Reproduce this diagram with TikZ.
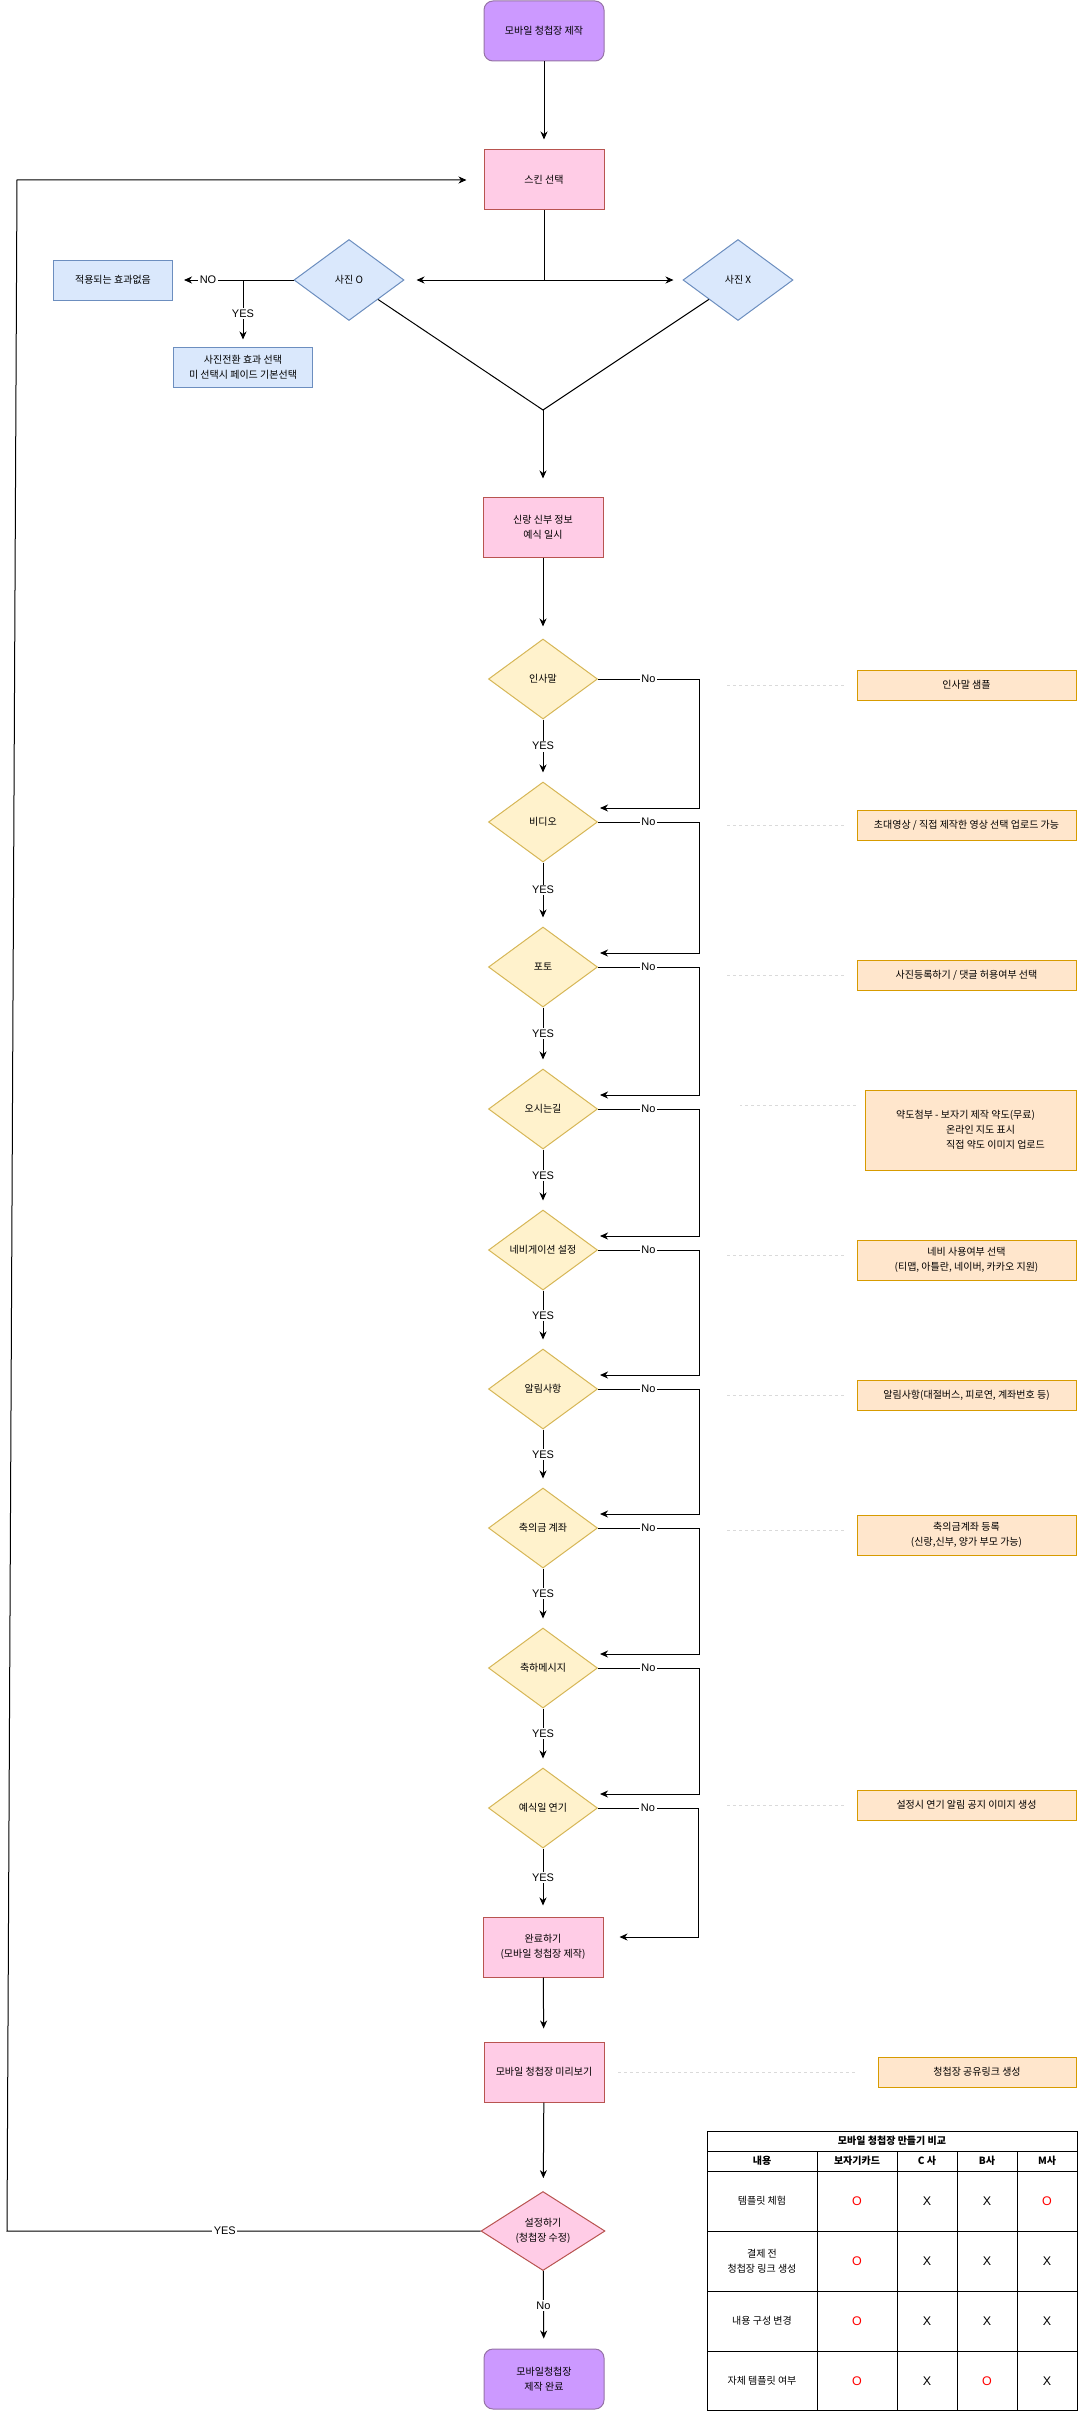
\documentclass[tikz,border=0pt]{standalone}
\usepackage{fontspec}
\setmainfont{Noto Sans CJK KR}
\newfontfamily\latfont{Liberation Sans}
\usetikzlibrary{shapes.geometric,arrows.meta}
\definecolor{startfill}{HTML}{CC99FF}
\definecolor{startline}{HTML}{9673A6}
\definecolor{procfill}{HTML}{FFCCE6}
\definecolor{procline}{HTML}{B85450}
\definecolor{bluefill}{HTML}{DAE8FC}
\definecolor{blueline}{HTML}{6C8EBF}
\definecolor{askfill}{HTML}{FFF2CC}
\definecolor{askline}{HTML}{D6B656}
\definecolor{notefill}{HTML}{FFE6CC}
\definecolor{noteline}{HTML}{D79B00}
\definecolor{dashgray}{HTML}{DADADA}
\definecolor{markred}{HTML}{FF0000}
\begin{document}
\begin{tikzpicture}[x=1pt,y=-1pt,
    every node/.style={font=\fontsize{10}{15}\selectfont},
    startbox/.style={rectangle, rounded corners=9pt, draw=startline, fill=startfill, line width=1pt,
      minimum width=120pt, minimum height=60pt, inner sep=2pt, align=center},
    procbox/.style={rectangle, draw=procline, fill=procfill, line width=1pt,
      minimum width=120pt, minimum height=60pt, inner sep=2pt, align=center},
    bluebox/.style={rectangle, draw=blueline, fill=bluefill, line width=1pt,
      minimum width=119pt, minimum height=40pt, inner sep=2pt, align=center},
    pickbox/.style={diamond, draw=blueline, fill=bluefill, line width=1pt,
      minimum width=110pt, minimum height=81pt, inner sep=0pt},
    askbox/.style={diamond, draw=askline, fill=askfill, line width=1pt,
      minimum width=109pt, minimum height=80pt, inner sep=0pt},
    setbox/.style={diamond, draw=procline, fill=procfill, line width=1pt,
      minimum width=124pt, minimum height=79pt, inner sep=0pt},
    notebox/.style={rectangle, draw=noteline, fill=notefill, line width=1pt,
      minimum width=219pt, minimum height=30pt, inner sep=2pt, align=center},
    wire/.style={draw, line width=1pt},
    arr/.style={draw, line width=1pt, -{Stealth[length=8pt,width=7pt,inset=2.5pt]}},
    twoway/.style={draw, line width=1pt, {Stealth[length=8pt,width=7pt,inset=2.5pt]}-{Stealth[length=8pt,width=7pt,inset=2.5pt]}},
    lbl/.style={fill=white, inner sep=1.5pt, font=\latfont\fontsize{11}{13}\selectfont},
    dline/.style={draw=dashgray, line width=1pt, dash pattern=on 3pt off 3pt},
    xmark/.style={font=\latfont\fontsize{12.5}{14}\selectfont},
    omark/.style={font=\latfont\fontsize{12.5}{14}\selectfont, text=markred}]
\useasboundingbox (0,0) rectangle (1078,2411);

% main column
\node[startbox] (start) at (544,31) {모바일 청첩장 제작};
\node[procbox] (skin) at (544,180) {스킨 선택};
\node[pickbox, label=center:사진 O] (phO) at (349,280) {};
\node[pickbox, label=center:사진 X] (phX) at (738,280) {};
\node[bluebox] (noeff) at (113,280) {적용되는 효과없음};
\node[bluebox, minimum width=139pt] (trans) at (243,367) {사진전환 효과 선택\\미 선택시 페이드 기본선택};
\node[procbox] (info) at (543,527) {신랑 신부 정보\\예식 일시};
\coordinate (jn) at (544,280);
\coordinate (vt) at (543,410);
\coordinate (nj) at (243,280);

\node[askbox, label=center:인사말] (d1) at (543,679) {};
\node[askbox, label=center:비디오] (d2) at (543,822) {};
\node[askbox, label=center:포토] (d3) at (543,967) {};
\node[askbox, label=center:오시는길] (d4) at (543,1109) {};
\node[askbox, label=center:네비게이션 설정] (d5) at (543,1250) {};
\node[askbox, label=center:알림사항] (d6) at (543,1389) {};
\node[askbox, label=center:축의금 계좌] (d7) at (543,1528) {};
\node[askbox, label=center:축하메시지] (d8) at (543,1668) {};
\node[askbox, label=center:예식일 연기] (d9) at (543,1808) {};

\node[procbox] (done) at (543,1947) {완료하기\\(모바일 청첩장 제작)};
\node[procbox] (prev) at (544,2072) {모바일 청첩장 미리보기};
\node[setbox, label={[align=center]center:설정하기\\(청첩장 수정)}] (set) at (543,2231) {};
\node[startbox] (fin) at (544,2379) {모바일청첩장\\제작 완료};
\coordinate (lb) at (7,2231);
\coordinate (lt) at (17,180);

% side notes
\node[notebox] (n1) at (966.5,685) {인사말 샘플};
\node[notebox] (n2) at (966.5,825) {초대영상 / 직접 제작한 영상 선택 업로드 가능};
\node[notebox] (n3) at (966.5,975) {사진등록하기 / 댓글 허용여부 선택};
\node[notebox, minimum width=211pt, minimum height=80pt, align=left] (n4) at (970.5,1130)
  {\fontsize{10}{14}\selectfont 약도첨부 - 보자기 제작 약도(무료)\\\hspace*{50pt}온라인 지도 표시\\\hspace*{50pt}직접 약도 이미지 업로드};
\node[notebox, minimum height=40pt] (n5) at (966.5,1260) {네비 사용여부 선택\\(티맵, 아틀란, 네이버, 카카오 지원)};
\node[notebox] (n6) at (966.5,1395) {알림사항(대절버스, 피로연, 계좌번호 등)};
\node[notebox, minimum height=40pt] (n7) at (966.5,1535) {축의금계좌 등록\\(신랑,신부, 양가 부모 가능)};
\node[notebox] (n8) at (966.5,1805) {설정시 연기 알림 공지 이미지 생성};
\node[notebox, minimum width=198pt] (n9) at (977,2072) {청첩장 공유링크 생성};

% connectors
\draw[arr, shorten >=10pt] (start) -- (skin);
\draw[wire] (skin) -- (jn);
\draw[twoway, shorten <=12pt, shorten >=9pt] (phO) -- (phX);
\draw[wire] (phO) -- (vt) -- (phX);
\draw[arr, shorten >=18pt] (vt) -- (info);
\draw[wire] (phO) -- (nj);
\draw[arr, shorten >=11pt] (nj) -- node[lbl]{NO} (noeff);
\draw[arr, shorten >=7pt] (nj) -- node[lbl]{YES} (trans);
\draw[arr, shorten >=12pt] (info) -- (d1);

\draw[arr, shorten >=9pt] (d1) -- node[lbl, pos=0.43]{YES} (d2);
\draw[arr, shorten >=9pt] (d2) -- node[lbl, pos=0.43]{YES} (d3);
\draw[arr, shorten >=9pt] (d3) -- node[lbl, pos=0.43]{YES} (d4);
\draw[arr, shorten >=9pt] (d4) -- node[lbl, pos=0.43]{YES} (d5);
\draw[arr, shorten >=9pt] (d5) -- node[lbl, pos=0.43]{YES} (d6);
\draw[arr, shorten >=9pt] (d6) -- node[lbl, pos=0.43]{YES} (d7);
\draw[arr, shorten >=9pt] (d7) -- node[lbl, pos=0.43]{YES} (d8);
\draw[arr, shorten >=9pt] (d8) -- node[lbl, pos=0.43]{YES} (d9);
\draw[arr, shorten >=11pt] (d9) -- node[lbl, pos=0.43]{YES} (done);

\draw[arr] (d1.east) -- node[lbl]{No} ++(101,0) |- ([xshift=2pt,yshift=14pt]d2.east);
\draw[arr] (d2.east) -- node[lbl]{No} ++(101,0) |- ([xshift=2pt,yshift=14pt]d3.east);
\draw[arr] (d3.east) -- node[lbl]{No} ++(101,0) |- ([xshift=2pt,yshift=14pt]d4.east);
\draw[arr] (d4.east) -- node[lbl]{No} ++(101,0) |- ([xshift=2pt,yshift=14pt]d5.east);
\draw[arr] (d5.east) -- node[lbl]{No} ++(101,0) |- ([xshift=2pt,yshift=14pt]d6.east);
\draw[arr] (d6.east) -- node[lbl]{No} ++(101,0) |- ([xshift=2pt,yshift=14pt]d7.east);
\draw[arr] (d7.east) -- node[lbl]{No} ++(101,0) |- ([xshift=2pt,yshift=14pt]d8.east);
\draw[arr] (d8.east) -- node[lbl]{No} ++(101,0) |- ([xshift=2pt,yshift=14pt]d9.east);
\draw[arr] (d9.east) -- node[lbl]{No} ++(100,0) |- ([xshift=16pt,yshift=10pt]done.east);

\draw[arr, shorten >=13pt] (done) -- (prev);
\draw[arr, shorten >=13pt] (prev) -- (set);
\draw[arr, shorten >=10pt] (set) -- node[lbl, pos=0.45]{No} (fin);
\draw[arr, shorten >=17pt] (set) -- node[lbl, pos=0.54]{YES} (lb) -- (lt) -- (skin);

% dashed links to notes
\draw[dline] ([xshift=-13pt]n1.west) -- ++(-117,0);
\draw[dline] ([xshift=-13pt]n2.west) -- ++(-117,0);
\draw[dline] ([xshift=-13pt]n3.west) -- ++(-117,0);
\draw[dline] ([xshift=-9pt,yshift=25pt]n4.west) -- ++(-116,0);
\draw[dline] ([xshift=-13pt,yshift=5pt]n5.west) -- ++(-117,0);
\draw[dline] ([xshift=-13pt]n6.west) -- ++(-117,0);
\draw[dline] ([xshift=-13pt,yshift=5pt]n7.west) -- ++(-117,0);
\draw[dline] ([xshift=-13pt]n8.west) -- ++(-117,0);
\draw[dline] ([xshift=-23pt]n9.west) -- ++(-238,0);

% comparison table
\draw[line width=1pt] (707,2131) rectangle (1077,2410);
\draw[line width=1pt] (707,2151) -- (1077,2151);
\draw[line width=1pt] (707,2171) -- (1077,2171);
\draw[line width=1pt] (707,2231) -- (1077,2231);
\draw[line width=1pt] (707,2291) -- (1077,2291);
\draw[line width=1pt] (707,2351) -- (1077,2351);
\draw[line width=1pt] (817,2151) -- (817,2410);
\draw[line width=1pt] (897,2151) -- (897,2410);
\draw[line width=1pt] (957,2151) -- (957,2410);
\draw[line width=1pt] (1017,2151) -- (1017,2410);

\node[font=\bfseries\fontsize{10}{13}\selectfont] (ttl) at (892,2141) {모바일 청첩장 만들기 비교};
\node[font=\bfseries\fontsize{10}{13}\selectfont] (h1) at (762,2161) {내용};
\node[font=\bfseries\fontsize{10}{13}\selectfont] (h2) at (857,2161) {보자기카드};
\node[font=\bfseries\fontsize{10}{13}\selectfont] (h3) at (927,2161) {C 사};
\node[font=\bfseries\fontsize{10}{13}\selectfont] (h4) at (987,2161) {B사};
\node[font=\bfseries\fontsize{10}{13}\selectfont] (h5) at (1047,2161) {M사};

\node (r1) at (762,2201) {템플릿 체험};
\node[omark] (r1a) at (857,2201) {O};
\node[xmark] (r1b) at (927,2201) {X};
\node[xmark] (r1c) at (987,2201) {X};
\node[omark] (r1d) at (1047,2201) {O};

\node[align=center] (r2) at (762,2261) {결제 전\\청첩장 링크 생성};
\node[omark] (r2a) at (857,2261) {O};
\node[xmark] (r2b) at (927,2261) {X};
\node[xmark] (r2c) at (987,2261) {X};
\node[xmark] (r2d) at (1047,2261) {X};

\node (r3) at (762,2321) {내용 구성 변경};
\node[omark] (r3a) at (857,2321) {O};
\node[xmark] (r3b) at (927,2321) {X};
\node[xmark] (r3c) at (987,2321) {X};
\node[xmark] (r3d) at (1047,2321) {X};

\node (r4) at (762,2381) {자체 템플릿 여부};
\node[omark] (r4a) at (857,2381) {O};
\node[xmark] (r4b) at (927,2381) {X};
\node[omark] (r4c) at (987,2381) {O};
\node[xmark] (r4d) at (1047,2381) {X};
\end{tikzpicture}
\end{document}
